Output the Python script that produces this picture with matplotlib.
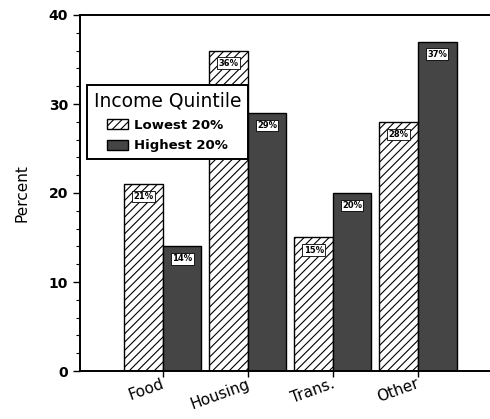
import numpy as np
import matplotlib.pyplot as plt
from matplotlib.patches import Patch

# Data ---------------------------------------------------------------------

categories = ["Food", "Housing", "Trans.", "Other"]
lowest = [21, 36, 15, 28]
highest = [14, 29, 20, 37]
series_names = ["Lowest 20%", "Highest 20%"]

dark = "#454545"

# Plot ---------------------------------------------------------------------

fig = plt.figure(figsize=(4.9, 4.19), dpi=100)
ax = fig.add_axes([80 / 490, 48 / 419, 410 / 490, 356 / 419])

x = np.arange(len(categories))
w = 0.453

plt.rcParams["hatch.linewidth"] = 0.8
b1 = ax.bar(x - w / 2, lowest, w, color="white", edgecolor="black",
            hatch="////", linewidth=1.0)
b2 = ax.bar(x + w / 2, highest, w, color=dark, edgecolor="black", linewidth=1.0)

# value boxes near the top of each bar
for bars, vals in [(b1, lowest), (b2, highest)]:
    for rect, v in zip(bars, vals):
        ax.annotate(f"{v}%", (rect.get_x() + rect.get_width() / 2, v),
                    xytext=(0, -9), textcoords="offset points",
                    ha="center", va="center", fontsize=6, fontweight="bold",
                    bbox=dict(boxstyle="square,pad=0.15", fc="white",
                              ec="black", lw=0.6))

ax.set_xlim(-0.976, 3.847)
ax.set_ylim(0, 40)

ax.set_xticks(x)
ax.set_xticklabels([])
for xi, lab in zip(x, categories):
    ax.text(xi - 0.02, -0.6, lab, rotation=20, ha="right", va="top",
            fontsize=11, rotation_mode="anchor")

ax.set_yticks([0, 10, 20, 30, 40])
ax.set_yticks(np.arange(0, 41, 2), minor=True)
ax.tick_params(axis="y", which="major", length=5, width=1, labelsize=10)
ax.tick_params(axis="y", which="minor", length=3, width=0.8)
ax.tick_params(axis="x", length=4, width=1, direction="out")
for t in ax.get_yticklabels():
    t.set_fontweight("bold")

ax.spines["right"].set_visible(False)
for s in ["left", "bottom", "top"]:
    ax.spines[s].set_linewidth(1.4)

ax.set_ylabel("Percent", fontsize=11, labelpad=14)

handles = [Patch(facecolor="white", edgecolor="black", hatch="////"),
           Patch(facecolor=dark, edgecolor="black")]
leg = ax.legend(handles, series_names, title="Income Quintile",
                loc="upper left", bbox_to_anchor=(87 / 490, 1 - 85 / 419),
                bbox_transform=fig.transFigure, borderaxespad=0,
                fancybox=False, edgecolor="black", framealpha=1,
                fontsize=9.5, title_fontsize=13.5, handlelength=1.6,
                handleheight=0.8, borderpad=0.5, labelspacing=0.6,
                handletextpad=0.5)
leg.get_frame().set_linewidth(1.4)
for t in leg.get_texts():
    t.set_fontweight("bold")

plt.savefig("out.png", dpi=100)
